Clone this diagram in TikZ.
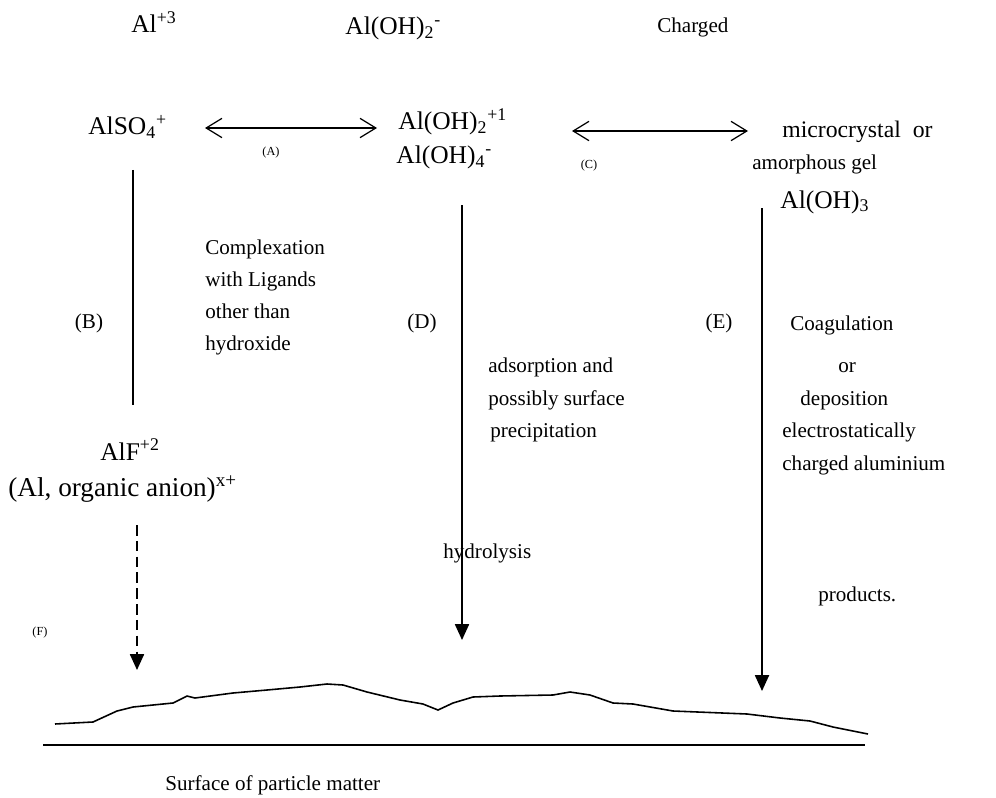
\documentclass[tikz,border=0pt]{standalone}
\usepackage{fontspec}
\setmainfont{Liberation Serif}
\usetikzlibrary{arrows.meta}

\tikzset{
  lbl/.style={font=\fontsize{12}{14}\selectfont, inner sep=0pt, anchor=base west},
  chem/.style={lbl, font=\fontsize{14.5}{16}\selectfont},
  tag/.style={font=\fontsize{7}{8}\selectfont, inner sep=0pt},
  rxn/.style={{Straight Barb[length=9pt,width=11pt]}-{Straight Barb[length=9pt,width=11pt]}, line width=0.7pt},
  flow/.style={-{Triangle[length=9pt,width=8pt]}, line width=0.9pt}
}

\begin{document}
\begin{tikzpicture}[x=0.02cm, y=-0.02cm]
  \useasboundingbox (0,0) rectangle (996,797);

  % top row
  \node[chem] (al3) at (131,33) {Al\textsuperscript{+3}};
  \node[chem] (aloh2m) at (345,35) {Al(OH)\textsubscript{2}\textsuperscript{-}};
  \node[lbl] (chg) at (657,33) {Charged};

  % species
  \node[chem] (also4) at (88,135) {AlSO\textsubscript{4}\textsuperscript{+}};
  \node[chem] (aloh2p) at (398,130) {Al(OH)\textsubscript{2}\textsuperscript{+1}};
  \node[chem] (aloh4) at (396,164) {Al(OH)\textsubscript{4}\textsuperscript{-}};
  \node[lbl, font=\fontsize{13.5}{15}\selectfont] (micro) at (782,138) {microcrystal\hspace{0.5em}or};
  \node[lbl] (amorph) at (752,170) {amorphous gel};
  \node[chem] (aloh3) at (780,208) {Al(OH)\textsubscript{3}};
  \node[chem] (alf) at (100,460) {AlF\textsuperscript{+2}};
  \node[chem, font=\fontsize{15.5}{17}\selectfont] (orgAl) at (8,496) {(Al, organic anion)\textsuperscript{x+}};

  % path labels
  \node[tag] (tA) at (271,153) {(A)};
  \node[tag] (tC) at (589,166) {(C)};
  \node[tag] (tF) at (40,633) {(F)};
  \node[lbl, anchor=center] (tB) at (89,323) {(B)};
  \node[lbl, anchor=center] (tD) at (422,323) {(D)};
  \node[lbl, anchor=center] (tE) at (719,323) {(E)};

  % explanations
  \foreach \t [count=\i] in {Complexation, with Ligands, other than, hydroxide}
    \node[lbl] (cpx\i) at (205,222+32*\i) {\t};
  \node[lbl] (ads1) at (488,372) {adsorption and};
  \node[lbl] (ads2) at (488,405) {possibly surface};
  \node[lbl] (ads3) at (490,437) {precipitation};
  \node[lbl] (hyd) at (443,558) {hydrolysis};
  \node[lbl] (coa1) at (790,330) {Coagulation};
  \node[lbl] (coa2) at (838,372) {or};
  \node[lbl] (coa3) at (800,405) {deposition};
  \node[lbl] (coa4) at (782,437) {electrostatically};
  \node[lbl] (coa5) at (782,470) {charged aluminium};
  \node[lbl] (prod) at (818,601) {products.};
  \node[lbl] (surf) at (165,790) {Surface of particle matter};

  % arrow ends
  \coordinate (aL) at (205,128);
  \coordinate (aR) at (377,128);
  \coordinate (cL) at (572,131);
  \coordinate (cR) at (748,131);
  \coordinate (bTop) at (133,170);
  \coordinate (bBot) at (133,405);
  \coordinate (dTop) at (462,205);
  \coordinate (dBot) at (462,640);
  \coordinate (eTop) at (762,208);
  \coordinate (eBot) at (762,691);
  \coordinate (fTop) at (137,525);
  \coordinate (fBot) at (137,670);

  \draw[rxn] (aL) -- (aR);
  \draw[rxn] (cL) -- (cR);
  \draw[line width=0.9pt] (bTop) -- (bBot);
  \draw[flow] (dTop) -- (dBot);
  \draw[flow] (eTop) -- (eBot);
  \draw[flow, dash pattern=on 6pt off 3pt] (fTop) -- (fBot);

  % particle surface
  \draw[line width=0.9pt] (55,724) -- (93,722) -- (117,711) -- (133,707) -- (173,703)
    -- (187,696) -- (195,698) -- (233,693) -- (267,690) -- (300,687) -- (327,684)
    -- (343,685) -- (367,692) -- (400,700) -- (423,704) -- (438,710) -- (453,703)
    -- (473,697) -- (500,696) -- (553,695) -- (570,692) -- (590,695) -- (613,703)
    -- (633,704) -- (673,711) -- (747,714) -- (780,718) -- (810,721) -- (833,727)
    -- (868,734);
  \draw[line width=0.9pt] (43,745) -- (865,745);
\end{tikzpicture}
\end{document}
